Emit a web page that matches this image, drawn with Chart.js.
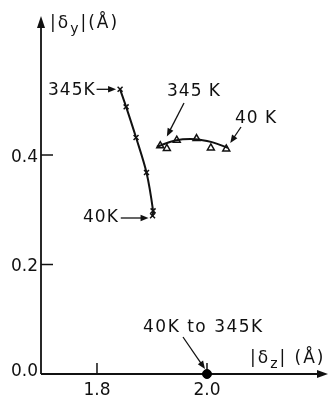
<!DOCTYPE html>
<html>
<head>
<meta charset="utf-8">
<script src="https://cdn.jsdelivr.net/npm/chart.js@4.4.0/dist/chart.umd.min.js"></script>
<style>
  html, body { margin: 0; padding: 0; background: #fff; }
</style>
</head>
<body>
<canvas id="delta_chart" width="330" height="396"></canvas>
<script>
// |dz| vs |dy| displacements, 345 K down to 40 K
var crossZ = [1.842, 1.853, 1.871, 1.890, 1.902, 1.901];
var crossY = [0.520, 0.488, 0.432, 0.368, 0.298, 0.289];

var triZ = [1.915, 1.927, 1.945, 1.981, 2.007, 2.035];
var triY = [0.417, 0.412, 0.427, 0.430, 0.413, 0.411];

// smooth curve drawn through the triangles
var fitZ = [1.909, 1.942, 1.978, 2.009, 2.038];
var fitY = [0.415, 0.4265, 0.429, 0.4235, 0.413];

var dotZ = [2.0];
var dotY = [0.0];

var xTickValues = [1.8, 2.0];
var xTickLabels = ["1.8", "2.0"];
var yTickValues = [0.0, 0.2, 0.4];
var yTickLabels = ["0.0", "0.2", "0.4"];

var INK = "#111";
var FONT = '17px "DejaVu Sans"';

function toPoints(xs, ys) {
  var pts = [];
  for (var i = 0; i < xs.length; i++) {
    pts.push({x: xs[i], y: ys[i]});
  }
  return pts;
}

function drawArrow(ctx, x0, y0, x1, y1) {
  var ang = Math.atan2(y1 - y0, x1 - x0);
  var len = 8, half = 3.2;
  ctx.beginPath();
  ctx.moveTo(x0, y0);
  ctx.lineTo(x1 - Math.cos(ang) * len * 0.6, y1 - Math.sin(ang) * len * 0.6);
  ctx.stroke();
  ctx.beginPath();
  ctx.moveTo(x1, y1);
  ctx.lineTo(x1 - Math.cos(ang) * len - Math.sin(ang) * half, y1 - Math.sin(ang) * len + Math.cos(ang) * half);
  ctx.lineTo(x1 - Math.cos(ang) * len + Math.sin(ang) * half, y1 - Math.sin(ang) * len - Math.cos(ang) * half);
  ctx.closePath();
  ctx.fill();
}

// draws a note and returns where its text ends
function drawNote(ctx, text, x, y) {
  ctx.letterSpacing = "1px";
  ctx.fillText(text, x, y);
  var w = ctx.measureText(text).width;
  ctx.letterSpacing = "0px";
  return x + w;
}

// text with a smaller lowered subscript, e.g. |d_y|
function drawSubLabel(ctx, x, y, head, sub, tail) {
  ctx.textAlign = "left";
  ctx.textBaseline = "alphabetic";
  ctx.letterSpacing = "2px";
  ctx.font = FONT;
  ctx.fillText(head, x, y);
  x += ctx.measureText(head).width;
  ctx.font = '14px "DejaVu Sans"';
  ctx.fillText(sub, x, y + 5);
  x += ctx.measureText(sub).width;
  ctx.font = FONT;
  ctx.fillText(tail, x, y);
  ctx.letterSpacing = "0px";
}

var axesPlugin = {
  id: "handAxes",
  beforeDatasetsDraw: function(chart) {
    var ctx = chart.ctx;
    var area = chart.chartArea;
    var xs = chart.scales.x, ys = chart.scales.y;
    var x0 = area.left, y0 = area.bottom;

    ctx.save();
    ctx.strokeStyle = INK;
    ctx.fillStyle = INK;
    ctx.lineWidth = 1.8;

    // vertical axis with arrow on top
    ctx.beginPath();
    ctx.moveTo(x0, y0);
    ctx.lineTo(x0, area.top + 8);
    ctx.stroke();
    ctx.beginPath();
    ctx.moveTo(x0, area.top);
    ctx.lineTo(x0 - 4, area.top + 12);
    ctx.lineTo(x0 + 4, area.top + 12);
    ctx.closePath();
    ctx.fill();

    // horizontal axis with arrow on the right
    ctx.beginPath();
    ctx.moveTo(x0, y0);
    ctx.lineTo(area.right - 8, y0);
    ctx.stroke();
    ctx.beginPath();
    ctx.moveTo(area.right, y0);
    ctx.lineTo(area.right - 11, y0 - 4);
    ctx.lineTo(area.right - 11, y0 + 4);
    ctx.closePath();
    ctx.fill();

    ctx.font = FONT;
    ctx.lineWidth = 1.5;

    // y ticks point inward
    ctx.textAlign = "right";
    ctx.textBaseline = "alphabetic";
    for (var i = 0; i < yTickValues.length; i++) {
      var py = ys.getPixelForValue(yTickValues[i]);
      if (yTickValues[i] > 0) {
        ctx.beginPath();
        ctx.moveTo(x0, py);
        ctx.lineTo(x0 + 12, py);
        ctx.stroke();
        ctx.fillText(yTickLabels[i], 38, py + 6.5);
      } else {
        ctx.fillText(yTickLabels[i], 38, py + 2);
      }
    }

    // x ticks point inward
    ctx.textAlign = "center";
    for (var j = 0; j < xTickValues.length; j++) {
      var px = xs.getPixelForValue(xTickValues[j]);
      ctx.beginPath();
      ctx.moveTo(px, y0);
      ctx.lineTo(px, y0 - 11);
      ctx.stroke();
      ctx.fillText(xTickLabels[j], px, 395);
    }

    drawSubLabel(ctx, 50, 28, "|\u03b4", "y", "|(\u00c5)");
    drawSubLabel(ctx, 250, 363, "|\u03b4", "z", "| (\u00c5)");
    ctx.restore();
  },
  afterDatasetsDraw: function(chart) {
    var ctx = chart.ctx;
    var cross = chart.getDatasetMeta(0).data;
    var tri = chart.getDatasetMeta(2).data;
    var dot = chart.getDatasetMeta(3).data[0];
    var end;

    ctx.save();
    ctx.strokeStyle = INK;
    ctx.fillStyle = INK;
    ctx.lineWidth = 1.3;
    ctx.font = FONT;
    ctx.textAlign = "left";
    ctx.textBaseline = "alphabetic";

    // cross series end points
    end = drawNote(ctx, "345K", 48, cross[0].y + 6);
    drawArrow(ctx, end + 1, cross[0].y, cross[0].x - 4, cross[0].y);
    end = drawNote(ctx, "40K", 83, 222);
    drawArrow(ctx, end + 2, 218, cross[5].x - 4, 218);

    // triangle series end points
    drawNote(ctx, "345 K", 167, 96);
    drawArrow(ctx, 184, 103, tri[1].x, tri[1].y - 12);
    drawNote(ctx, "40 K", 235, 123);
    drawArrow(ctx, 241, 127, tri[5].x + 4, tri[5].y - 6);

    ctx.letterSpacing = "1.5px";
    ctx.fillText("40K to 345K", 143, 332);
    ctx.letterSpacing = "0px";
    drawArrow(ctx, 183, 337, dot.x - 2, dot.y - 5);
    ctx.restore();
  }
};

function showDeltaChart() {
  var config = {
    type: "scatter",
    data: {
      datasets: [{
          data: toPoints(crossZ, crossY),
          showLine: true,
          tension: 0.3,
          borderColor: INK,
          borderWidth: 2,
          pointStyle: "crossRot",
          pointRadius: 3.5,
          pointBorderWidth: 1.5,
          pointBorderColor: INK,
          clip: false
        }, {
          data: toPoints(fitZ, fitY),
          showLine: true,
          tension: 0.4,
          borderColor: INK,
          borderWidth: 2,
          pointRadius: 0,
          clip: false
        }, {
          data: toPoints(triZ, triY),
          showLine: false,
          pointStyle: "triangle",
          pointRadius: 4,
          pointBackgroundColor: "#fff",
          pointBorderColor: INK,
          pointBorderWidth: 1.5,
          clip: false
        }, {
          data: toPoints(dotZ, dotY),
          showLine: false,
          pointRadius: 4.5,
          pointBackgroundColor: "#000",
          pointBorderColor: "#000",
          clip: false
        }]
    },
    options: {
      responsive: false,
      animation: false,
      events: [],
      layout: {
        autoPadding: false,
        padding: {left: 41, right: 2, top: 16, bottom: 22}
      },
      plugins: {
        legend: {display: false},
        tooltip: {enabled: false}
      },
      scales: {
        x: {type: "linear", min: 1.6982, max: 2.2200, display: false},
        y: {type: "linear", min: 0, max: 0.6539, display: false}
      }
    },
    plugins: [axesPlugin]
  };

  new Chart(document.getElementById("delta_chart").getContext("2d"), config);
}

document.addEventListener("DOMContentLoaded", showDeltaChart, false);
</script>
</body>
</html>
